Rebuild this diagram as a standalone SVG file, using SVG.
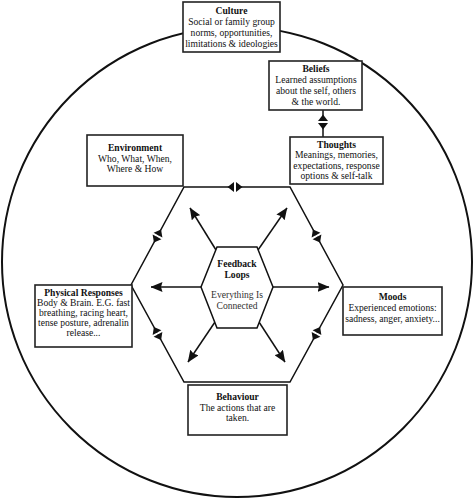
<svg xmlns="http://www.w3.org/2000/svg" width="474" height="499" viewBox="0 0 474 499">
<style>
text{font-family:"Liberation Serif","Times New Roman",serif;font-size:9.6px;fill:#111;text-anchor:middle}
.t{font-weight:bold}
.box{fill:#fff;stroke:#222;stroke-width:1.6}
.ln{fill:none;stroke:#111;stroke-width:1.5}
.g{fill:#333}
</style>
<defs>
<marker id="ah" markerUnits="userSpaceOnUse" markerWidth="12" markerHeight="10" refX="11.5" refY="5" orient="auto">
<path d="M0,0 L12,5 L0,10 L1.5,5 z" fill="#111"/>
</marker>
<g id="dbl">
<rect x="-1" y="-5.5" width="2" height="11" fill="#fff"/>
<polygon points="-7.5,0 -1,-5 -1,5" fill="#111"/>
<polygon points="7.5,0 1,-5 1,5" fill="#111"/>
</g>
</defs>
<g id="connectors">
<circle cx="237" cy="262" r="235" fill="none" stroke="#111" stroke-width="2"/>
<polygon class="ln" points="184,187 290,187 343,285 290,382 184,382 131,285"/>
<line class="ln" x1="323" y1="110" x2="323" y2="137"/>
<line class="ln" x1="201" y1="287" x2="151" y2="287" marker-end="url(#ah)"/>
<line class="ln" x1="273" y1="287" x2="329" y2="287" marker-end="url(#ah)"/>
<line class="ln" x1="216" y1="250" x2="190" y2="208" marker-end="url(#ah)"/>
<line class="ln" x1="258" y1="250" x2="287" y2="208" marker-end="url(#ah)"/>
<line class="ln" x1="215" y1="322" x2="188" y2="362" marker-end="url(#ah)"/>
<line class="ln" x1="259" y1="322" x2="285" y2="362" marker-end="url(#ah)"/>
<use href="#dbl" transform="translate(235,187)"/>
<use href="#dbl" transform="translate(323,122) rotate(90)"/>
<use href="#dbl" transform="translate(157.5,236) rotate(118.4)"/>
<use href="#dbl" transform="translate(316.5,236) rotate(61.6)"/>
<use href="#dbl" transform="translate(157.5,333.5) rotate(61.3)"/>
<use href="#dbl" transform="translate(316.5,333.5) rotate(118.7)"/>
</g>
<g id="culture">
<rect class="box" x="183" y="2" width="97" height="50"/>
<text class="t" x="231.5" y="14">Culture</text>
<text x="231.5" y="25">Social or family group</text>
<text x="231.5" y="36">norms, opportunities,</text>
<text x="231.5" y="47">limitations &amp; ideologies</text>
</g>
<g id="beliefs">
<rect class="box" x="269" y="61" width="93" height="49"/>
<text class="t" x="316" y="72">Beliefs</text>
<text x="316" y="83">Learned assumptions</text>
<text x="316" y="94">about the self, others</text>
<text x="316" y="105">&amp; the world.</text>
</g>
<g id="thoughts">
<rect class="box" x="290" y="137" width="93" height="47"/>
<text class="t" x="336.5" y="147.5">Thoughts</text>
<text x="336.5" y="158">Meanings, memories,</text>
<text x="336.5" y="168.5">expectations, response</text>
<text x="336.5" y="179">options &amp; self-talk</text>
</g>
<g id="environment">
<rect class="box" x="87" y="135" width="96" height="51"/>
<text class="t" x="135" y="151">Environment</text>
<text x="135" y="161.5">Who, What, When,</text>
<text x="135" y="172">Where &amp; How</text>
</g>
<g id="physical">
<rect class="box" x="35" y="285" width="97" height="62"/>
<text class="t" x="83.5" y="296">Physical Responses</text>
<text x="83.5" y="306">Body &amp; Brain. E.G. fast</text>
<text x="83.5" y="316">breathing, racing heart,</text>
<text x="83.5" y="326">tense posture, adrenalin</text>
<text x="83.5" y="336">release...</text>
</g>
<g id="moods">
<rect class="box" x="343" y="287" width="99" height="48"/>
<text class="t" x="392.5" y="300">Moods</text>
<text x="392.5" y="311">Experienced emotions:</text>
<text x="392.5" y="322">sadness, anger, anxiety...</text>
</g>
<g id="behaviour">
<rect class="box" x="188" y="385" width="99" height="50"/>
<text class="t" x="237.5" y="400">Behaviour</text>
<text x="237.5" y="410.5">The actions that are</text>
<text x="237.5" y="421">taken.</text>
</g>
<g id="feedback">
<polygon class="ln" points="217,247 257,247 273,287 257,328 217,328 201,287" style="fill:#fff"/>
<text class="t" x="237" y="267">Feedback</text>
<text class="t" x="237" y="278">Loops</text>
<text class="g" x="237" y="298">Everything Is</text>
<text class="g" x="237" y="308.5">Connected</text>
</g>
</svg>
